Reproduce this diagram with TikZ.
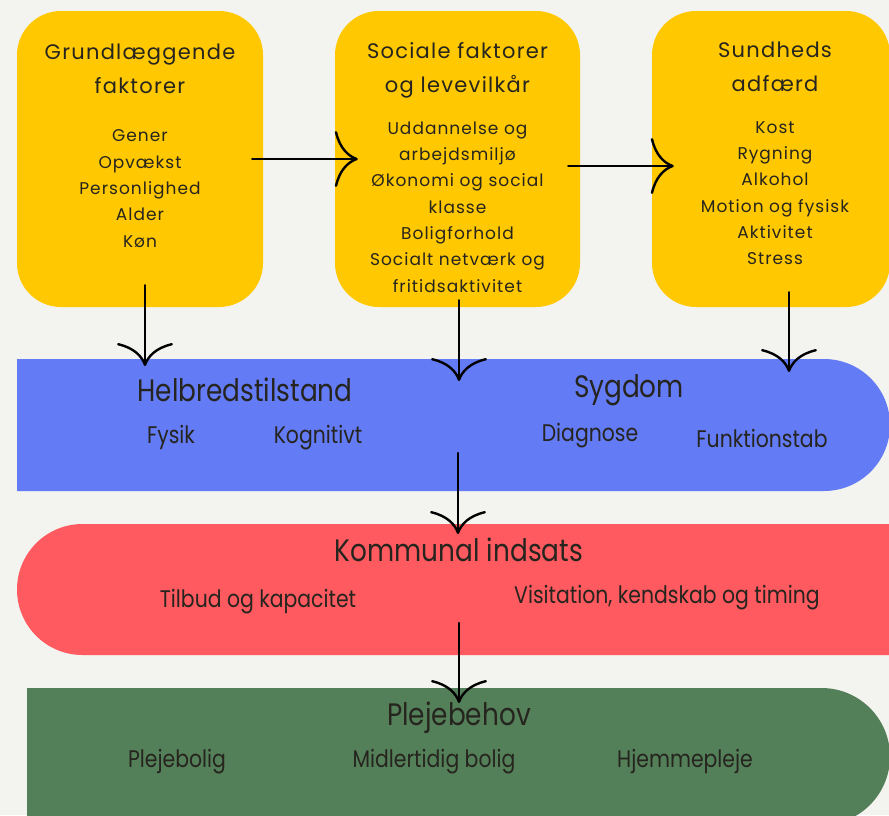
\documentclass[tikz,border=0pt]{standalone}
\usepackage{fontspec}
\setmainfont{Poppins}
\newfontfamily\boxfont[LetterSpace=6]{Poppins}
\newfontfamily\bandfont[FakeStretch=0.85]{Poppins}
\usetikzlibrary{arrows.meta}
\definecolor{bgpaper}{RGB}{243,243,239}
\definecolor{boxyellow}{RGB}{255,200,0}
\definecolor{bandblue}{RGB}{99,123,245}
\definecolor{bandred}{RGB}{255,90,95}
\definecolor{bandgreen}{RGB}{84,128,89}
\definecolor{inkdark}{RGB}{38,36,30}
\tikzset{
  factorbox/.style={fill=boxyellow,rounded corners=44pt,minimum width=246pt,minimum height=296pt,inner sep=0pt},
  boxtitle/.style={font=\boxfont\fontsize{21}{34}\selectfont,align=center,text=inkdark},
  boxlist/.style={font=\boxfont\fontsize{17}{26.3}\selectfont,align=center,text=inkdark},
  bandtitle/.style={font=\bandfont\fontsize{31}{34}\selectfont,text=inkdark},
  banditem/.style={font=\bandfont\fontsize{24}{27}\selectfont,text=inkdark},
  flow/.style={line width=2.4pt,line cap=round,-{Computer Modern Rightarrow[length=23pt,width=56pt]}}
}
\begin{document}
\begin{tikzpicture}[x=1pt,y=-1pt]
\useasboundingbox (0,0) rectangle (889,815);
\fill[bgpaper] (0,0) rectangle (889,815);
% ---- faktorer (gule kasser) ----
\node[factorbox] (grund) at (140,159) {};
\node[factorbox,minimum width=245pt] (social) at (457.5,159) {};
\node[factorbox,minimum width=238pt] (sund) at (771,159) {};
\node[boxtitle] (grundT) at (140,69) {Grundlæggende\\faktorer};
\node[boxlist] (grundL) at (140,188.5) {Gener\\Opvækst\\Personlighed\\Alder\\Køn};
\node[boxtitle] (socialT) at (457.5,70) {Sociale faktorer\\og levevilkår};
\node[boxlist] (socialL) at (457.5,207) {Uddannelse og\\arbejdsmiljø\\Økonomi og social\\klasse\\Boligforhold\\Socialt netværk og\\fritidsaktivitet};
\node[boxtitle] (sundT) at (775,67) {Sundheds\\adfærd};
\node[boxlist] (sundL) at (775,193) {Kost\\Rygning\\Alkohol\\Motion og fysisk\\Aktivitet\\Stress};
% ---- baand ----
\fill[bandblue] (17,359) {[rounded corners=66pt] -- (890,359) -- (890,491)} -- (17,491) -- cycle;
\fill[bandred] (900,524) {[rounded corners=65.5pt] -- (17,524) -- (17,655)} -- (900,655) -- cycle;
\fill[bandgreen] (27,830) -- (27,688) {[rounded corners=68.5pt] -- (890,688) -- (890,825)} -- (27,825) -- cycle;
\node[bandtitle] (helb) at (245,390) {Helbredstilstand};
\node[bandtitle] (sygdom) at (629,390) {Sygdom};
\node[banditem] (fysik) at (171,437) {Fysik};
\node[banditem] (kogn) at (318,438) {Kognitivt};
\node[banditem] (diag) at (590,436) {Diagnose};
\node[banditem] (funk) at (762,438) {Funktionstab};
\node[bandtitle] (komm) at (459,550) {Kommunal indsats};
\node[banditem] (tilbud) at (258,602) {Tilbud og kapacitet};
\node[banditem] (visit) at (667,598) {Visitation, kendskab og timing};
\node[bandtitle] (pleje) at (459,718) {Plejebehov};
\node[banditem] (plbolig) at (177,762) {Plejebolig};
\node[banditem] (midl) at (434,762) {Midlertidig bolig};
\node[banditem] (hjem) at (685,761) {Hjemmepleje};
% ---- pile ----
\coordinate (helbIn) at (145,366);
\coordinate (midIn) at (459,381);
\coordinate (sygIn) at (789,372);
\coordinate (bandOut) at (458,453);
\coordinate (kommIn) at (458,534);
\coordinate (kommOut) at (459,623);
\coordinate (plejeIn) at (459,703);
\draw[flow] ([xshift=-11pt]grund.east) -- ([xshift=23pt]social.west);
\draw[flow] ([xshift=-12pt,yshift=-7pt]social.east) -- ([xshift=22pt,yshift=-7pt]sund.west);
\draw[flow] ([xshift=5pt,yshift=22pt]grund.south) -- (helbIn);
\draw[flow] ([xshift=1.5pt,yshift=7pt]social.south) -- (midIn);
\draw[flow] ([xshift=18pt,yshift=15pt]sund.south) -- (sygIn);
\draw[flow] (bandOut) -- (kommIn);
\draw[flow] (kommOut) -- (plejeIn);
\end{tikzpicture}
\end{document}
